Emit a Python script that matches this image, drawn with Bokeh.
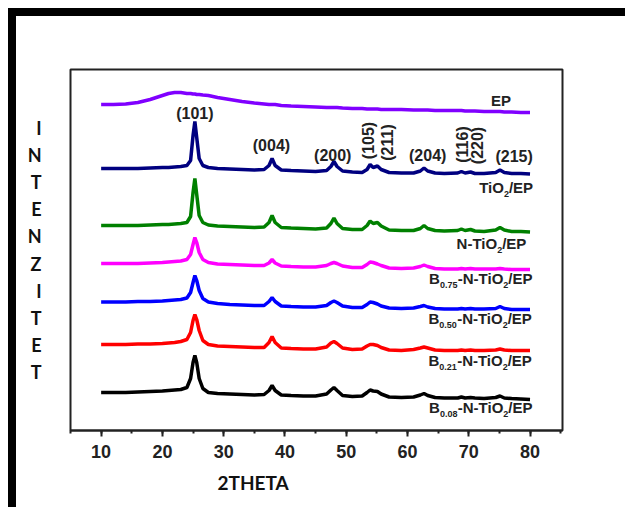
import math
from bokeh.plotting import figure
from bokeh.models import Range1d, SingleIntervalTicker, Label, Title
from bokeh.embed import file_html
from bokeh.resources import INLINE

# ---------------- data ----------------
two_theta = [10, 12, 14, 16, 18, 20, 21, 22, 23, 24,
             24.6, 25.0, 25.3, 25.6, 26.0, 26.6, 27.5, 29, 31, 33,
             35, 36.6, 37.4, 37.9, 38.4, 39.4, 41, 43, 45, 46.8,
             47.5, 48.0, 48.5, 49.4, 51, 52.6, 53.4, 53.9, 54.4, 55.1,
             55.7, 57, 59, 61, 62.1, 62.7, 63.3, 64.5, 66, 68.2,
             68.8, 69.4, 70.3, 71, 72.5, 74.4, 75.1, 75.8, 77, 78.5,
             80]

ep = [326, 326, 326.5, 328, 331, 335, 337, 338, 338, 337,
      337, 336.5, 336.5, 336, 336, 335.5, 335, 333, 331, 329,
      327.5, 326.5, 326, 326, 326, 325, 324.5, 324, 323.5, 323,
      323, 323, 323, 322.5, 322, 322, 321.5, 321.5, 321.5, 321.5,
      321, 321, 321, 320.5, 320.5, 320.5, 320.5, 320, 320, 320,
      320, 319.5, 319.5, 319.5, 319, 319, 319, 318.5, 318.5, 318,
      318]

tio2_ep = [262, 262, 262, 262, 262.5, 263, 263, 263.5, 264, 265,
           270, 295, 309, 293, 272, 265, 263, 262, 261.5, 261,
           260.5, 261, 265, 272, 265, 260.5, 260, 259.5, 259, 260,
           264, 269, 264, 259.5, 258.5, 258, 261, 266, 263, 264.5,
           261, 258, 257.5, 257.5, 259.5, 262.5, 259.5, 257.5, 257, 257.5,
           259, 257.5, 258.5, 257, 257, 258, 260.5, 258, 257, 257,
           256.5]

n_tio2_ep = [205, 205, 205, 205, 205.5, 206, 206, 206.5, 207, 208,
             214, 238, 252, 236, 215, 208, 205.5, 204.5, 204, 203.5,
             203, 203.5, 208, 215, 208, 203, 202.5, 202, 201.5, 202.5,
             207, 212.5, 207, 202, 201, 201, 205, 209.5, 207, 208,
             204.5, 200.5, 200, 200, 202, 205, 202, 200, 199.5, 200,
             201.5, 200, 201, 199.5, 199, 200.5, 203, 200.5, 199, 199,
             198.5]

b075 = [167, 167, 167, 167, 167.5, 168, 168.5, 169, 169.5, 171,
        176, 186, 193, 188, 178, 171, 168, 166.5, 166, 165.5,
        165, 165, 167.5, 171, 167.5, 164.5, 164, 163.5, 163.5, 165,
        167, 168, 167, 164.5, 163, 163, 166, 168.5, 168, 166.5,
        165, 162.5, 162, 162.5, 164, 165.5, 164, 162, 161.5, 161.5,
        162, 161.5, 162, 161.5, 161.5, 161.5, 162, 161.5, 161, 161,
        161]

b050 = [128.5, 128.5, 128.5, 129, 129, 129.5, 130, 130.5, 131, 132.5,
        138, 148, 155, 150, 140, 132, 128.5, 127, 126, 125.5,
        125, 125, 129, 133, 129, 124.5, 124, 123.5, 123.5, 125,
        128, 129.5, 128, 124.5, 123, 123, 126, 128.5, 128, 126.5,
        124.5, 122.5, 122, 122.5, 124, 125, 123.5, 122, 121.5, 121.5,
        122, 121.5, 122, 121.5, 121.5, 122, 124, 122, 121, 121,
        121]

b021 = [86, 86, 86, 86.5, 86.5, 87, 87.5, 88, 89, 91,
        98, 110, 116, 111, 100, 90, 86, 84.5, 84, 83.5,
        83, 83, 88, 94, 88, 82.5, 82, 81.5, 81.5, 83.5,
        87.5, 89, 87, 82.5, 81, 81.5, 84.5, 86, 86, 85,
        83, 80.5, 80, 81, 82.5, 83.5, 82.5, 80.5, 80, 80,
        80.5, 80, 80.5, 80, 80, 80.5, 81.5, 80.5, 80, 80,
        80]

b008 = [38, 38, 38, 38.5, 39, 39.5, 40, 40.5, 41, 43,
        52, 68, 75, 68, 52, 42, 38, 37, 36.5, 36,
        35.5, 36, 40, 45, 40, 35.5, 35, 34.5, 34.5, 36.5,
        40.5, 43, 40, 35, 34, 34.5, 38, 40.5, 39.5, 39,
        36.5, 33.5, 33, 33.5, 35.5, 37, 35, 33, 32.5, 32.5,
        33.5, 32.5, 33, 32.5, 32, 33, 34.5, 32.5, 32, 31.5,
        31]

series_names = ["EP", "TiO2/EP", "N-TiO2/EP", "B0.75-N-TiO2/EP",
                "B0.50-N-TiO2/EP", "B0.21-N-TiO2/EP", "B0.08-N-TiO2/EP"]
series_values = [ep, tio2_ep, n_tio2_ep, b075, b050, b021, b008]
series_colors = ["#8000ff", "#000080", "#008000", "#ff00ff", "#0000ff", "#ff0000", "#000000"]

# series label pieces: (text, subscript?)
series_label_pieces = [
    [("EP", False)],
    [("TiO", False), ("2", True), ("/EP", False)],
    [("N-TiO", False), ("2", True), ("/EP", False)],
    [("B", False), ("0.75", True), ("-N-TiO", False), ("2", True), ("/EP", False)],
    [("B", False), ("0.50", True), ("-N-TiO", False), ("2", True), ("/EP", False)],
    [("B", False), ("0.21", True), ("-N-TiO", False), ("2", True), ("/EP", False)],
    [("B", False), ("0.08", True), ("-N-TiO", False), ("2", True), ("/EP", False)],
]
series_label_x = [76.9, 80.5, 79.4, 80.4, 80.3, 80.3, 80.4]
series_label_y = [330, 243, 187, 152, 112, 70, 23]

hkl_labels = ["(101)", "(004)", "(200)", "(105)", "(211)", "(204)", "(116)", "(220)", "(215)"]
hkl_x = [25.3, 37.8, 47.8, 53.7, 56.8, 63.3, 69.0, 71.5, 77.4]
hkl_y = [317, 285, 275, 290, 288, 275, 286, 285, 274]
hkl_vertical = [False, False, False, True, True, False, True, True, False]

x_ticks_interval = 10
x_title = "2THETA"
y_title = "INTENZITET"

# ---------------- figure ----------------
p = figure(width=617, height=499, output_backend="svg", toolbar_location=None,
           x_range=Range1d(5, 85.3), y_range=Range1d(0, 361),
           min_border_left=54, min_border_right=71, min_border_top=53, min_border_bottom=85)
p.styles = {"border-top": "8px solid black", "border-left": "8px solid black",
            "margin-left": "8px", "margin-top": "8px"}
p.grid.visible = False
p.background_fill_color = "white"
p.border_fill_color = "white"
p.outline_line_color = "#222222"
p.outline_line_width = 2

ax = p.xaxis[0]
ax.ticker = SingleIntervalTicker(interval=x_ticks_interval, num_minor_ticks=2)
ax.major_label_text_font = "Liberation Sans"
ax.major_label_text_font_size = "18px"
ax.major_label_text_font_style = "bold"
ax.major_label_text_color = "#222222"
ax.axis_line_width = 2
ax.axis_line_color = "#222222"
ax.major_tick_line_color = "#222222"
ax.minor_tick_line_color = "#222222"
ax.major_tick_line_width = 2
ax.minor_tick_line_width = 2
ax.major_tick_out = 6
ax.major_tick_in = 0
ax.minor_tick_out = 3
ax.minor_tick_in = 0
ax.major_label_standoff = 8

# y axis: only used to carry the stacked-letter title
ay = p.yaxis[0]
ay.axis_line_color = None
ay.major_tick_line_color = None
ay.minor_tick_line_color = None
ay.major_label_text_color = None
ay.major_label_text_font_size = "1px"
ay.axis_label = "\n".join(y_title)
ay.axis_label_orientation = "horizontal"
ay.axis_label_text_font = "Lato"
ay.axis_label_text_font_style = "bold"
ay.axis_label_text_font_size = "18px"
ay.axis_label_text_line_height = 1.23
ay.axis_label_text_color = "#111111"
ay.axis_label_standoff = 23

p.add_layout(Title(text=x_title, align="left", offset=147, standoff=16,
                   text_font="Lato", text_font_style="bold", text_font_size="19px",
                   text_color="#111111"), "below")

for vals, col in zip(series_values, series_colors):
    p.line(two_theta, vals, line_color=col, line_width=3.5)

# Arial-bold widths (per 1000 em)
W = {'B': 722, 'N': 722, 'T': 611, 'i': 278, 'O': 778, '-': 333, '/': 278,
     'E': 667, 'P': 667, '.': 278}
for d in "0123456789":
    W[d] = 556

def tw(s, size):
    return sum(W.get(c, 600) for c in s) * size / 1000.0

MAIN = 15
SUB = 9
for pieces, lx, ly in zip(series_label_pieces, series_label_x, series_label_y):
    off = 0.0
    for txt, sub in reversed(pieces):
        size = SUB if sub else MAIN
        p.add_layout(Label(x=lx, y=ly, x_offset=-off, y_offset=(-6 if sub else 0), text=txt,
                           text_align="right", text_baseline="middle",
                           text_font="Liberation Sans", text_font_style="bold",
                           text_font_size=f"{size}px", text_color="#222222"))
        off += tw(txt, size)

for t, x, y, v in zip(hkl_labels, hkl_x, hkl_y, hkl_vertical):
    p.add_layout(Label(x=x, y=y, text=t, text_align="center", text_baseline="middle",
                       angle=(math.pi / 2 if v else 0),
                       text_font="Liberation Sans", text_font_style="bold",
                       text_font_size="16px", text_color="#222222"))

open("out.html", "w").write(file_html(p, INLINE))
